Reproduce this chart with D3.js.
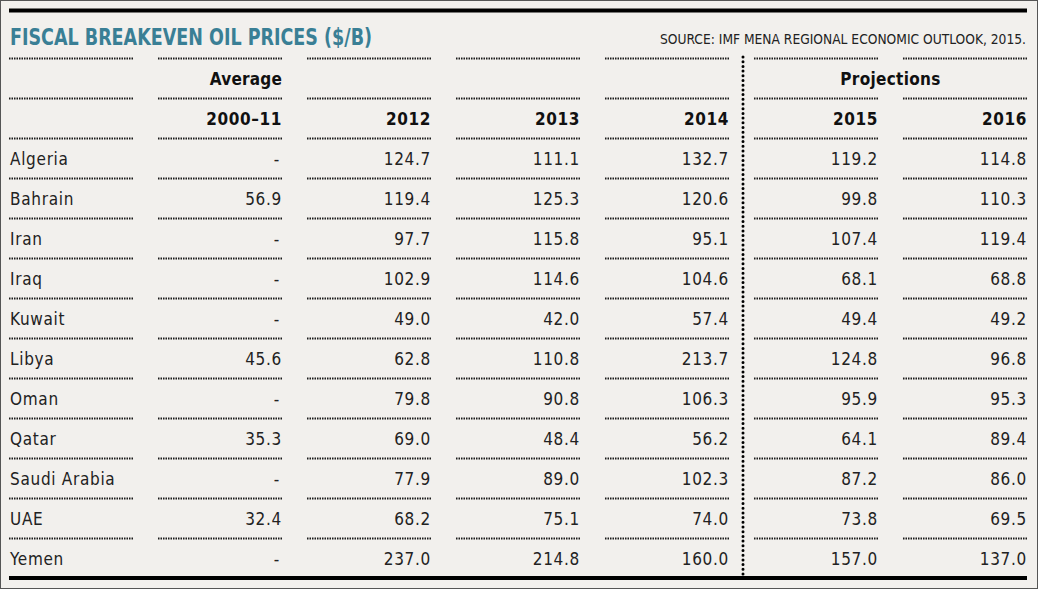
<!DOCTYPE html>
<html><head><meta charset="utf-8">
<script src="https://cdn.jsdelivr.net/npm/d3@7/dist/d3.min.js"></script>
<style>
html,body{margin:0;padding:0;background:#f2f0ed;}
svg{display:block;}
</style></head>
<body>
<script>
const title = "FISCAL BREAKEVEN OIL PRICES ($/B)";
const source = "SOURCE: IMF MENA REGIONAL ECONOMIC OUTLOOK, 2015.";
const columns = ["2000–11", "2012", "2013", "2014", "2015", "2016"];
const groupLabels = ["Average", "", "", "", "Projections"];
const countries = ["Algeria","Bahrain","Iran","Iraq","Kuwait","Libya","Oman","Qatar","Saudi Arabia","UAE","Yemen"];
const avg2000_11 = [null, 56.9, null, null, null, 45.6, null, 35.3, null, 32.4, null];
const v2012 = [124.7, 119.4, 97.7, 102.9, 49.0, 62.8, 79.8, 69.0, 77.9, 68.2, 237.0];
const v2013 = [111.1, 125.3, 115.8, 114.6, 42.0, 110.8, 90.8, 48.4, 89.0, 75.1, 214.8];
const v2014 = [132.7, 120.6, 95.1, 104.6, 57.4, 213.7, 106.3, 56.2, 102.3, 74.0, 160.0];
const v2015 = [119.2, 99.8, 107.4, 68.1, 49.4, 124.8, 95.9, 64.1, 87.2, 73.8, 157.0];
const v2016 = [114.8, 110.3, 119.4, 68.8, 49.2, 96.8, 95.3, 89.4, 86.0, 69.5, 137.0];
const series = [avg2000_11, v2012, v2013, v2014, v2015, v2016];

const W = 1038, H = 589;
const svg = d3.select("body").append("svg").attr("width", W).attr("height", H);
svg.append("rect").attr("x",0.5).attr("y",0.5).attr("width",W-1).attr("height",H-1)
  .attr("fill","#f2f0ed").attr("stroke","#555").attr("stroke-width",1);

const bodyFont = "'DejaVu Sans Condensed', 'DejaVu Sans', sans-serif";

// column scale: left edge of each of 7 columns (country + 6 data)
const colIdx = d3.range(7);
const x = d3.scaleLinear().domain([0, 6]).range([9, 903]);
const colW = 124;
// rows: 2 header rows + data rows
const rowKeys = ["g", "h"].concat(countries);
const y = d3.scaleBand().domain(rowKeys).range([58, 578]);

// top thick line
svg.append("line").attr("x1", 9).attr("x2", 1027).attr("y1", 10.5).attr("y2", 10.5)
  .attr("stroke", "#000").attr("stroke-width", 4);

// title
svg.append("text").attr("x", 10).attr("y", 45).text(title)
  .attr("font-family", bodyFont).attr("font-weight", "bold").attr("font-size", 23)
  .attr("fill", "#3a7f95").attr("textLength", 362).attr("lengthAdjust","spacingAndGlyphs");
svg.append("text").attr("x", 1026).attr("y", 44).attr("text-anchor", "end").text(source)
  .attr("font-family", bodyFont).attr("font-size", 14).attr("fill", "#222")
  .attr("textLength", 366).attr("lengthAdjust","spacingAndGlyphs");

// dotted horizontal separators (top of each row)
rowKeys.forEach(r => {
  colIdx.forEach(c => {
    svg.append("line")
      .attr("x1", x(c)).attr("x2", x(c) + colW)
      .attr("y1", y(r) + 0.5).attr("y2", y(r) + 0.5)
      .attr("stroke", "#1a1a1a").attr("stroke-width", 2).attr("stroke-dasharray", "1.5,1");
  });
});

// bottom thick line
svg.append("line").attr("x1", 9).attr("x2", 1027).attr("y1", 578).attr("y2", 578)
  .attr("stroke", "#000").attr("stroke-width", 4);

// vertical dotted divider between 2014 and 2015
const vx = (x(4) + colW + x(5)) / 2 + 1.5;
svg.append("line").attr("x1", vx).attr("x2", vx).attr("y1", 57).attr("y2", 578)
  .attr("stroke", "#000").attr("stroke-width", 3).attr("stroke-linecap", "round")
  .attr("stroke-dasharray", "0,4.7");

const mid = r => y(r) + y.bandwidth() / 2 + 7;

// group labels
svg.append("text").attr("x", x(1) + colW).attr("y", mid("g")).attr("text-anchor","end")
  .text(groupLabels[0]).attr("font-family", bodyFont).attr("font-weight","bold").attr("font-size",17)
  .attr("letter-spacing", 0.2).attr("fill","#111");
svg.append("text").attr("x", (x(5) + x(6) + colW) / 2).attr("y", mid("g")).attr("text-anchor","middle")
  .text(groupLabels[4]).attr("font-family", bodyFont).attr("font-weight","bold").attr("font-size",17)
  .attr("letter-spacing", 0.3).attr("fill","#111");

// column headers
columns.forEach((c, i) => {
  svg.append("text").attr("x", x(i + 1) + colW).attr("y", mid("h")).attr("text-anchor","end")
    .text(c).attr("font-family", bodyFont).attr("font-weight","bold").attr("font-size",17)
    .attr("letter-spacing", 0.6).attr("fill","#111");
});

// data rows
countries.forEach((ct, ri) => {
  svg.append("text").attr("x", 10).attr("y", mid(ct)).text(ct)
    .attr("font-family", bodyFont).attr("font-size", 17).attr("letter-spacing", 0.7).attr("fill", "#222");
  series.forEach((s, si) => {
    const v = s[ri];
    svg.append("text").attr("x", x(si + 1) + colW - (v == null ? 2 : 0)).attr("y", mid(ct))
      .attr("text-anchor", "end")
      .text(v == null ? "-" : d3.format(".1f")(v))
      .attr("font-family", bodyFont).attr("font-size", 17).attr("letter-spacing", 0.7).attr("fill", "#222");
  });
});
</script>
</body></html>
